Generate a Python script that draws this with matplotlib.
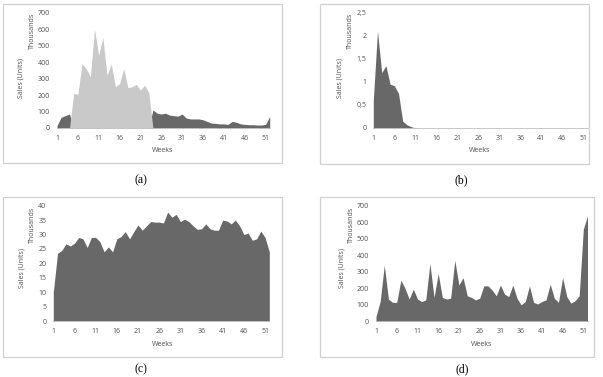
import matplotlib
matplotlib.use("Agg")
import matplotlib.pyplot as plt
from matplotlib.patches import Rectangle

weeks = list(range(1, 53))

# Panel (a): two phases, values in thousands
a_dark = [15, 65, 75, 85, 0, 0, 0, 0, 0, 0, 0, 0, 0, 0, 0, 0, 0, 0, 0, 0, 0, 0, 0,
          110, 90, 85, 90, 78, 75, 72, 85, 60, 55, 55, 55, 50, 40, 30, 28, 25,
          25, 22, 40, 35, 25, 22, 20, 20, 18, 18, 22, 70]
a_light = [0, 0, 0, 0, 210, 205, 390, 360, 310, 600, 440, 550, 320, 390, 250, 270,
           360, 245, 250, 265, 230, 260, 215,
           0, 0, 0, 0, 0, 0, 0, 0, 0, 0, 0, 0, 0, 0, 0, 0, 0, 0, 0, 0, 0, 0, 0,
           0, 0, 0, 0, 0, 0]

# Panel (b)
b_sales = [0.6, 2.1, 1.2, 1.35, 0.95, 0.92, 0.75, 0.15, 0.07, 0.03, 0.0] + [0.0] * 41

# Panel (c)
c_sales = [10, 23.5, 24.5, 26.8, 26, 27, 29, 28.5, 25.5, 29, 29, 27.5, 24, 25.7, 24,
           28.5, 29.3, 31, 28.5, 31, 33.3, 31.5, 33, 34.5, 34.3, 34.3, 34, 37.8, 36,
           37, 34.5, 35.3, 34.5, 33, 31.8, 32, 33.7, 32, 31.5, 31.5, 35, 34.7, 33.7,
           35, 33, 30, 30.5, 28, 28.5, 31.2, 29, 24]

# Panel (d)
d_sales = [30, 120, 340, 135, 115, 115, 250, 200, 135, 195, 135, 120, 130, 350, 145,
           290, 145, 135, 140, 370, 220, 265, 155, 145, 130, 140, 215, 215, 190, 155,
           220, 165, 150, 220, 140, 100, 120, 215, 115, 105, 120, 130, 225, 140, 115,
           265, 150, 110, 125, 155, 560, 640]

xtick_vals = list(range(1, 53, 5))
a_yticks = [0, 100, 200, 300, 400, 500, 600, 700]
b_yticks = [0, 0.5, 1, 1.5, 2, 2.5]
b_ylabels = ["0", "0,5", "1", "1,5", "2", "2,5"]
c_yticks = [0, 5, 10, 15, 20, 25, 30, 35, 40]
d_yticks = [0, 100, 200, 300, 400, 500, 600, 700]
captions = ["(a)", "(b)", "(c)", "(d)"]

W, H = 603, 377
fig = plt.figure(figsize=(W / 100, H / 100), dpi=100)
plt.rcParams['font.family'] = ['Open Sans', 'DejaVu Sans']

DARK = "#686868"
LIGHT = "#c9c9c9"
TXT = "#4f4f4f"
BOX = "#d0d0d0"
FS = 5


def ax_at(x0, x1, y0, y1):
    return fig.add_axes([x0 / W, 1 - y1 / H, (x1 - x0) / W, (y1 - y0) / H])


def box(x0, x1, y0, y1):
    fig.patches.append(Rectangle((x0 / W, 1 - y1 / H), (x1 - x0) / W, (y1 - y0) / H,
                                 transform=fig.transFigure, fill=False,
                                 edgecolor=BOX, linewidth=0.9))


def style(ax, yticks, ylabels, ymax):
    ax.set_xlim(1, 52)
    ax.set_ylim(0, ymax)
    ax.set_xticks(xtick_vals)
    ax.set_xticklabels([str(v) for v in xtick_vals])
    ax.set_yticks(yticks)
    ax.set_yticklabels(ylabels)
    for s in ["top", "right", "left"]:
        ax.spines[s].set_visible(False)
    ax.spines["bottom"].set_color("#bfbfbf")
    ax.spines["bottom"].set_linewidth(0.6)
    ax.tick_params(length=0, labelsize=FS, colors=TXT, pad=5)
    ax.set_facecolor("none")


def labels(top_px, mid_px, weeks_x, weeks_y, th_x, su_x):
    fig.text(th_x / W, 1 - (top_px + 18) / H, "Thousands", rotation=90, fontsize=FS,
             color=TXT, ha="center", va="center")
    fig.text(su_x / W, 1 - mid_px / H, "Sales (Units)", rotation=90, fontsize=FS,
             color=TXT, ha="center", va="center")
    fig.text(weeks_x / W, 1 - weeks_y / H, "Weeks", fontsize=FS, color=TXT,
             ha="center", va="center")


# (a)
box(3, 282, 4, 163)
ax = ax_at(57, 269.7, 12.7, 128)
ax.fill_between(weeks, a_dark, 0, color=DARK, linewidth=0)
ax.fill_between(weeks, a_light, 0, color=LIGHT, linewidth=0)
style(ax, a_yticks, [str(v) for v in a_yticks], 700)
labels(13, 78, 163, 150, 32, 21)

# (b)
box(320, 589, 4, 164)
ax = ax_at(373.3, 587.5, 12.7, 128)
ax.fill_between(weeks, b_sales, 0, color=DARK, linewidth=0)
style(ax, b_yticks, b_ylabels, 2.5)
labels(13, 78, 480, 150, 350, 340)

# (c)
box(3, 282, 197, 357)
ax = ax_at(53.3, 269.3, 205.7, 321)
ax.fill_between(weeks, c_sales, 0, color=DARK, linewidth=0)
style(ax, c_yticks, [str(v) for v in c_yticks], 40)
labels(207, 268, 163, 344, 32, 22)

# (d)
box(320, 594, 197, 357)
ax = ax_at(376, 587.5, 206, 321.3)
ax.fill_between(weeks, d_sales, 0, color=DARK, linewidth=0)
style(ax, d_yticks, [str(v) for v in d_yticks], 700)
labels(207, 268, 482, 344, 351, 342)

cap_pos = [(141, 180), (461, 180), (141, 369), (462, 369)]
for (cx, cy), c in zip(cap_pos, captions):
    fig.text(cx / W, 1 - cy / H, c, fontsize=8.5, family="Liberation Serif",
             ha="center", va="center", color="black")

fig.savefig("out.png", dpi=100, facecolor="white")
